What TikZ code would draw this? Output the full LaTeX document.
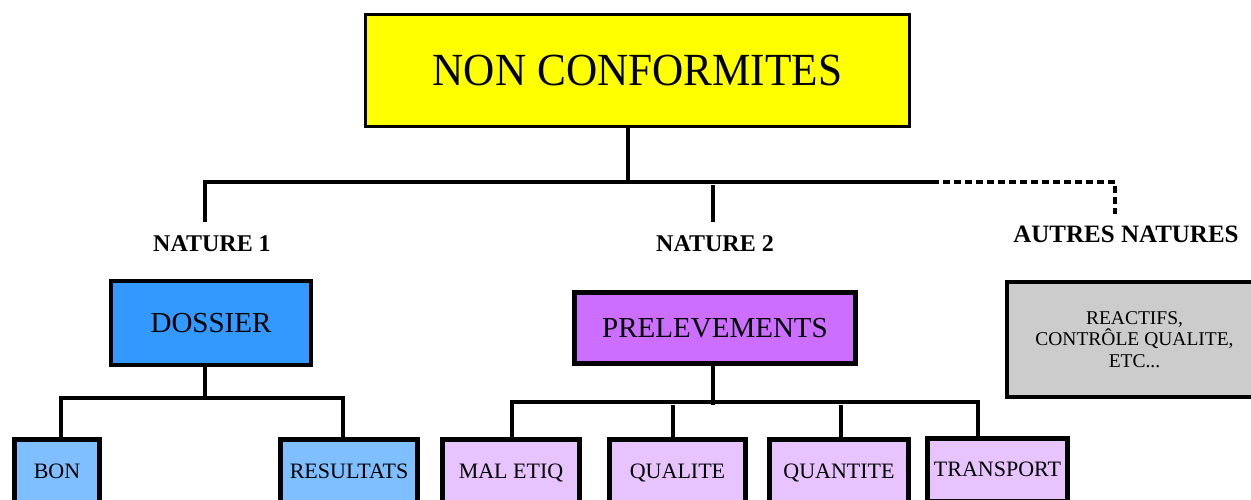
\documentclass[tikz,border=0pt]{standalone}
\usepackage{fontspec}
\setmainfont{Liberation Serif}
\definecolor{ncyellow}{HTML}{FFFF00}
\definecolor{dosblue}{HTML}{3399FF}
\definecolor{lightblue}{HTML}{7FBFFF}
\definecolor{prelpurple}{HTML}{CC6EFF}
\definecolor{lavender}{HTML}{E8C4FF}
\definecolor{greybox}{HTML}{CCCCCC}
\tikzset{
  box/.style={draw=black, rectangle, inner sep=0pt, align=center, text depth=0pt},
  titlebox/.style={box, fill=ncyellow, line width=3pt, minimum width=544pt, minimum height=112pt, font=\fontsize{46}{54}\selectfont, text height=30.4pt},
  midbox/.style={box, line width=4pt, font=\fontsize{29}{34}\selectfont, text height=19.2pt},
  leafbox/.style={box, line width=5pt, minimum height=63pt, font=\fontsize{22}{26}\selectfont, text height=14.5pt},
  otherbox/.style={draw=black, rectangle, inner sep=0pt, align=center, fill=greybox, line width=4pt, font=\fontsize{19.5}{21.5}\selectfont},
  lab/.style={inner sep=0pt, font=\bfseries\fontsize{24}{28}\selectfont, text height=15.9pt, text depth=0pt},
  conn/.style={draw=black, line width=4pt, line join=miter},
  dconn/.style={conn, dash pattern=on 7pt off 4pt}
}
\begin{document}
\begin{tikzpicture}[x=1pt,y=-1pt]
\useasboundingbox (0,0) rectangle (1251,499);
\clip (0,0) rectangle (1251,499);
\fill[white] (0,0) rectangle (1251,499);

% nodes
\node[titlebox] (title) at (637.5,70.5) {\scalebox{0.94}[1]{NON CONFORMITES}};

\node[lab] (n1) at (212,244) {NATURE 1};
\node[lab] (n2) at (715,244) {NATURE 2};
\node[lab, font=\bfseries\fontsize{25}{29}\selectfont, text height=16.5pt] (n3) at (1126,234) {AUTRES NATURES};

\node[midbox, fill=dosblue, minimum width=200pt, minimum height=84pt] (dossier) at (211,323) {DOSSIER};
\node[midbox, fill=prelpurple, line width=4.7pt, minimum width=281pt, minimum height=71pt] (prel) at (715,328) {PRELEVEMENTS};
\node[otherbox, minimum width=255pt, minimum height=115pt] (autres) at (1134.5,339.5) {REACTIFS,\\CONTRÔLE QUALITE,\\ETC...};

\node[leafbox, fill=lightblue, minimum width=85pt] (bon) at (57,471) {BON};
\node[leafbox, fill=lightblue, minimum width=137pt] (res) at (349,471) {RESULTATS};
\node[leafbox, fill=lavender, minimum width=137pt] (mal) at (511,471) {MAL ETIQ};
\node[leafbox, fill=lavender, minimum width=136pt] (qual) at (677.5,471) {QUALITE};
\node[leafbox, fill=lavender, minimum width=139pt] (quant) at (839,471) {QUANTITE};
\node[leafbox, fill=lavender, minimum width=140pt] (trans) at (997.5,469.5) {TRANSPORT};

% junction coordinates
\coordinate (t0) at (628,182);
\coordinate (tl) at (205,182);
\coordinate (tr) at (932,182);
\coordinate (td) at (1115,182);
\coordinate (tdd) at (1115,214);
\coordinate (n1a) at (205,222);
\coordinate (n2a) at (713,185);
\coordinate (n2b) at (713,222);

\coordinate (dm) at (205,398);
\coordinate (dl) at (61,398);
\coordinate (dr) at (343,398);

\coordinate (pm) at (713,405);
\coordinate (pl) at (512,402);
\coordinate (pr) at (978,402);
\coordinate (pq1) at (673,405);
\coordinate (pq2) at (841,405);

% connectors
\draw[conn] (title.south -| t0) -- (t0);
\draw[conn] (n1a) -- (tl) -- (tr);
\draw[dconn] (tr) -- (td) -- (tdd);
\draw[conn] (n2a) -- (n2b);

\draw[conn] (dossier.south -| dm) -- (dm);
\draw[conn] (bon.north -| dl) -- (dl) -- (dr) -- (res.north -| dr);

\draw[conn] (prel.south -| pm) -- (pm);
\draw[conn] (mal.north -| pl) -- (pl) -- (pr) -- (trans.north -| pr);
\draw[conn] (pq1) -- (qual.north -| pq1);
\draw[conn] (pq2) -- (quant.north -| pq2);
\end{tikzpicture}
\end{document}
